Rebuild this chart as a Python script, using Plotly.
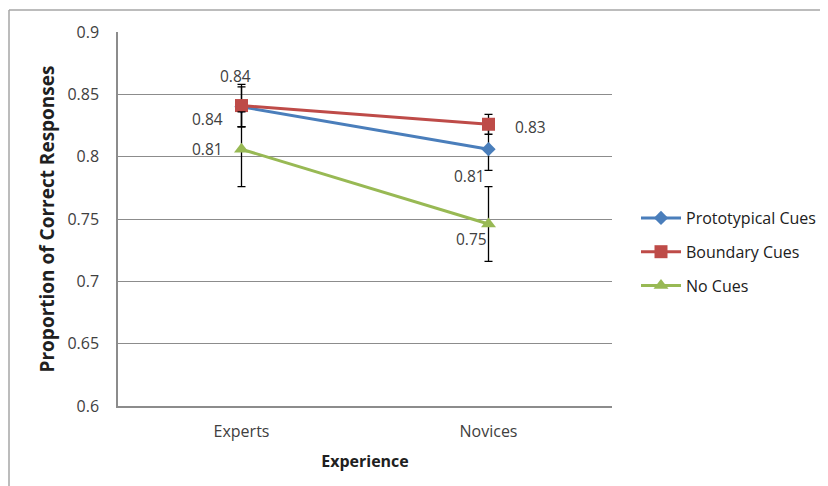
import plotly.graph_objects as go

categories = ["Experts", "Novices"]
series_names = ["Prototypical Cues", "Boundary Cues", "No Cues"]
proto_vals = [0.840, 0.806]
boundary_vals = [0.841, 0.826]
nocues_vals = [0.806, 0.746]
proto_err = [0.016, 0.017]
boundary_err = [0.017, 0.008]
nocues_err = [0.030, 0.030]
y_ticks = [0.6, 0.65, 0.7, 0.75, 0.8, 0.85, 0.9]
y_tick_labels = ["0.6", "0.65", "0.7", "0.75", "0.8", "0.85", "0.9"]

colors = ["#4a7ebb", "#be4b48", "#98b954"]
symbols = ["diamond", "square", "triangle-up"]
msizes = [11, 13, 13]
vals = [proto_vals, boundary_vals, nocues_vals]
errs = [proto_err, boundary_err, nocues_err]

FONT = "Open Sans, Lato, sans-serif"

# page offset of the figure (body margin) and target plot box in page pixels
OFF = 8
PL, PR, PT, PB = 118, 612, 32, 406
W, H = 828, 486
ml, mt = PL - OFF, PT - OFF
mr, mb = W - (PR - OFF), H - (PB - OFF)
pw, ph = PR - PL, PB - PT

fig = go.Figure()
for i in range(3):
    fig.add_trace(go.Scatter(
        x=categories, y=vals[i], name=series_names[i],
        mode="lines+markers",
        line=dict(color=colors[i], width=3),
        marker=dict(symbol=symbols[i], size=msizes[i], color=colors[i]),
        error_y=dict(type="data", array=errs[i], visible=True,
                     color="black", thickness=1.3, width=4),
        legendgroup=str(i),
    ))

# data labels (series index, point index, xshift, yshift)
label_offsets = [
    (1, 0, -6, 30),
    (0, 0, -34, -12),
    (2, 0, -34, 0),
    (1, 1, 42, -3),
    (0, 1, -19, -27),
    (2, 1, -17, -15),
]
for s, p, dx, dy in label_offsets:
    fig.add_annotation(x=categories[p], y=vals[s][p], text=f"{vals[s][p]:.2f}",
                       showarrow=False, xshift=dx, yshift=dy,
                       font=dict(family=FONT, size=15.5, color="#404040"))

# outer chart border (left and top), page coords x=9, y=10
bx = (9 - PL) / pw
by = (PB - 10) / ph
fig.add_shape(type="line", xref="paper", yref="paper",
              x0=bx, x1=bx, y0=-0.4, y1=by,
              line=dict(color="#a6a6a6", width=1.5))
fig.add_shape(type="line", xref="paper", yref="paper",
              x0=bx, x1=1.6, y0=by, y1=by,
              line=dict(color="#a6a6a6", width=1.5))

fig.update_layout(
    width=W, height=H,
    margin=dict(l=ml, r=mr, t=mt, b=mb),
    paper_bgcolor="white", plot_bgcolor="white",
    font=dict(family=FONT, size=16, color="#404040"),
    showlegend=True,
    legend=dict(x=(636 - PL) / pw, xanchor="left", y=(PB - 252) / ph, yanchor="middle",
                font=dict(family=FONT, size=16, color="#202020"),
                tracegroupgap=10, itemwidth=40, bgcolor="rgba(0,0,0,0)"),
    xaxis=dict(
        type="category", showgrid=False, showline=True, linecolor="#8c8c8c", linewidth=1.5,
        ticks="", ticklabelstandoff=10, tickfont=dict(size=16, color="#404040"),
        title=dict(text="<b>Experience</b>", standoff=15, font=dict(size=16, color="#202020")),
        range=[-0.5, 1.5],
    ),
    yaxis=dict(
        range=[0.6, 0.9], tickvals=y_ticks, ticktext=y_tick_labels,
        showgrid=True, gridcolor="#8c8c8c", gridwidth=1.2,
        showline=True, linecolor="#8c8c8c", linewidth=1.5,
        ticks="", ticklabelstandoff=14, tickfont=dict(size=16, color="#404040"),
        zeroline=False,
        title=dict(text="<b>Proportion of Correct Responses</b>", standoff=8,
                   font=dict(size=19, color="#202020")),
    ),
)

fig.write_html("out.html")
